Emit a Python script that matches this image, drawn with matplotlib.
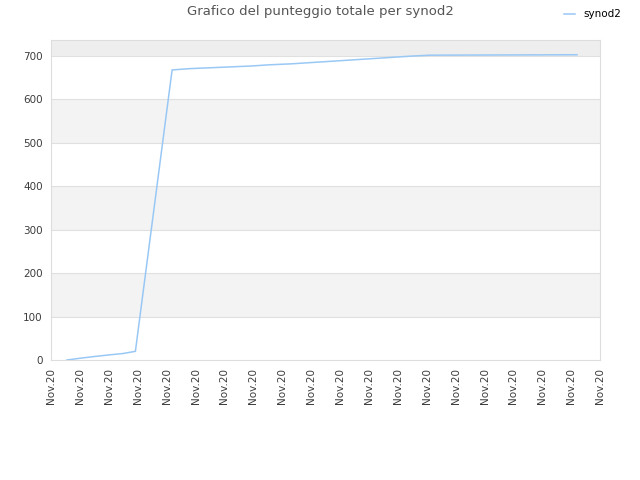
import matplotlib
matplotlib.use('Agg')
import matplotlib.pyplot as plt

# data positions in tick units (tick 0..19 all labelled "Nov.20")
days = [0.55, 1.0, 1.5, 2.05, 2.5, 2.92, 4.19, 4.8, 5.5, 6.2, 6.9, 7.6, 8.3,
        9.0, 9.7, 10.4, 11.1, 11.8, 12.5, 13.1, 18.2]
score = [0, 4, 8, 12, 15, 20, 668, 671, 673, 675, 677, 680, 682, 685, 688,
         691, 694, 697, 700, 702, 703]
tick_labels = ["Nov.20"] * 20
series_name = "synod2"

fig = plt.figure(figsize=(6.4, 4.8), dpi=100)
ax = fig.add_axes([0.0797, 0.25, 0.858, 0.6667])

ymax = 737
# alternating bands
for lo in range(0, 700, 100):
    col = '#f3f3f3' if (lo // 100) % 2 == 1 else 'white'
    ax.axhspan(lo, lo + 100, color=col, zorder=0, lw=0)
ax.axhspan(700, ymax, color='#eeeeee', zorder=0, lw=0)
for yv in range(100, 800, 100):
    ax.axhline(yv, color='#e0e0e0', lw=0.8, zorder=1)

ax.plot(days, score, color='#99c8f5', lw=1.1, label=series_name, zorder=3)

ax.set_xlim(0, 19)
ax.set_ylim(0, ymax)
ax.set_xticks(range(20))
ax.set_xticklabels(tick_labels, rotation=90, fontsize=7.5, color='#3c3c3c')
ax.set_yticks(range(0, 800, 100))
ax.tick_params(axis='y', labelsize=7.5, colors='#3c3c3c', length=0, pad=6)
ax.tick_params(axis='x', length=0, pad=6)
for s in ax.spines.values():
    s.set_color('#dddddd')

fig.text(0.5, 0.975, "Grafico del punteggio totale per synod2", ha='center',
         va='center', fontsize=9.5, color='#555555')
fig.legend(loc='upper right', bbox_to_anchor=(0.985, 1.0), frameon=False,
           fontsize=7.5, handlelength=1.0, handletextpad=0.8)

plt.savefig('out.png', dpi=100)
